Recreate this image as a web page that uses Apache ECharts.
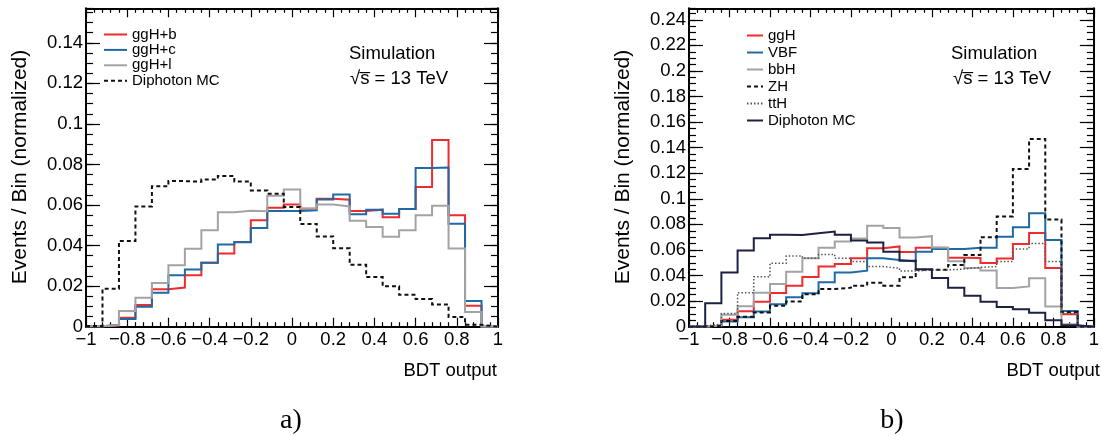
<!DOCTYPE html>
<html>
<head>
<meta charset="utf-8">
<script src="https://cdn.jsdelivr.net/npm/echarts@6/dist/echarts.min.js"></script>
<style>
  html, body { margin: 0; padding: 0; background: #fff; }
  #chart { width: 1102px; height: 436px; }
</style>
</head>
<body>
<div id="chart"></div>
<script>
// BDT output histograms: 25 bins of width 0.08 spanning [-1, 1]
const binLow = -1;
const binWidth = 0.08;

// a) ggH split by jet flavour, compared with the diphoton background
const ggHb = [0.0002, 0.0006, 0.0044, 0.0107, 0.0185, 0.0193, 0.0254, 0.0315, 0.0361, 0.0418, 0.0525, 0.0587, 0.0603, 0.0582, 0.0631, 0.0626, 0.0570, 0.0577, 0.0540, 0.0580, 0.0689, 0.0921, 0.0549, 0.0103, 0];
const ggHc = [0.0002, 0.0010, 0.0038, 0.0098, 0.0167, 0.0254, 0.0282, 0.0315, 0.0405, 0.0416, 0.0487, 0.0570, 0.0570, 0.0574, 0.0627, 0.0652, 0.0555, 0.0577, 0.0557, 0.0580, 0.0782, 0.0785, 0.0508, 0.0127, 0];
const ggHl = [0.0002, 0.0008, 0.0077, 0.0143, 0.0216, 0.0303, 0.0384, 0.0475, 0.0564, 0.0572, 0.0569, 0.0646, 0.0676, 0.0583, 0.0602, 0.0593, 0.0523, 0.0492, 0.0444, 0.0475, 0.0549, 0.0597, 0.0385, 0.0072, 0];
const diphotonA = [0.0003, 0.0187, 0.0423, 0.0593, 0.0692, 0.0718, 0.0715, 0.0726, 0.0743, 0.0716, 0.0672, 0.0656, 0.0590, 0.0507, 0.0445, 0.0387, 0.0305, 0.0245, 0.0199, 0.0157, 0.0136, 0.0110, 0.0048, 0.0009, 0];

// b) Higgs production modes, compared with the diphoton background
const ggH = [0, 0.0010, 0.0055, 0.0120, 0.0196, 0.0263, 0.0321, 0.0388, 0.0470, 0.0490, 0.0535, 0.0613, 0.0628, 0.0585, 0.0618, 0.0615, 0.0540, 0.0537, 0.0498, 0.0533, 0.0646, 0.0733, 0.0460, 0.0097, 0];
const VBF = [0, 0.0008, 0.0040, 0.0073, 0.0118, 0.0175, 0.0230, 0.0261, 0.0347, 0.0423, 0.0438, 0.0535, 0.0522, 0.0510, 0.0587, 0.0608, 0.0608, 0.0618, 0.0618, 0.0704, 0.0777, 0.0887, 0.0678, 0.0123, 0];
const bbH = [0, 0.0010, 0.0093, 0.0160, 0.0266, 0.0334, 0.0430, 0.0535, 0.0618, 0.0666, 0.0690, 0.0790, 0.0772, 0.0697, 0.0708, 0.0620, 0.0512, 0.0460, 0.0440, 0.0302, 0.0315, 0.0378, 0.0157, 0.0020, 0];
const ZH = [0, 0.0008, 0.0045, 0.0078, 0.0112, 0.0163, 0.0198, 0.0253, 0.0295, 0.0305, 0.0321, 0.0344, 0.0321, 0.0386, 0.0446, 0.0446, 0.0483, 0.0560, 0.0700, 0.0862, 0.1234, 0.1467, 0.0838, 0.0115, 0];
const ttH = [0.0005, 0.0020, 0.0104, 0.0266, 0.0390, 0.0496, 0.0553, 0.0535, 0.0565, 0.0535, 0.0510, 0.0470, 0.0457, 0.0435, 0.0444, 0.0444, 0.0451, 0.0464, 0.0470, 0.0509, 0.0608, 0.0650, 0.0509, 0.0104, 0.0005];
const diphotonB = [0, 0.0183, 0.0423, 0.0595, 0.0691, 0.0720, 0.0717, 0.0730, 0.0744, 0.0720, 0.0675, 0.0658, 0.0587, 0.0515, 0.0450, 0.0380, 0.0305, 0.0243, 0.0196, 0.0155, 0.0136, 0.0110, 0.0050, 0.0011, 0];

const FONT = '"Liberation Sans", Arial, Helvetica, sans-serif';
const C_RED = '#ef2b2b', C_BLUE = '#1f6aa5', C_GREY = '#a3a3a3', C_NAVY = '#1c2142', C_BLACK = '#111111', C_DOT = '#555555';

// histogram outline: left edge of every bin, plus the right edge of the last bin
function steps(values) {
  const pts = values.map((v, i) => [binLow + i * binWidth, v]);
  pts.push([binLow + values.length * binWidth, values[values.length - 1]]);
  return pts;
}

function tickText(v) {
  return String(+(+v).toFixed(3)).replace('-', '\u2212');
}

const grids = [
  { left: 86, top: 8.3, width: 412, height: 318.4 },
  { left: 689, top: 8.3, width: 411, height: 318.4 }
];
const yMax = [0.157, 0.249];

const axisLine = { show: true, onZero: false, lineStyle: { color: '#000', width: 2 } };
const xAxes = [], yAxes = [];
grids.forEach((g, gi) => {
  ['bottom', 'top'].forEach(pos => {
    xAxes.push({
      gridIndex: gi, type: 'value', position: pos, min: -1, max: 1, interval: 0.2,
      axisLine: axisLine,
      axisTick: { show: true, inside: true, length: 9, lineStyle: { color: '#000', width: 1.2 } },
      minorTick: { show: true, splitNumber: 5, length: 4.5, lineStyle: { color: '#000', width: 1.2 } },
      axisLabel: {
        show: pos === 'bottom', margin: 4, color: '#000', fontFamily: FONT, fontSize: 18.5,
        showMinLabel: true, showMaxLabel: true, formatter: tickText
      },
      splitLine: { show: false }
    });
  });
  ['left', 'right'].forEach(pos => {
    // major ticks with labels
    yAxes.push({
      gridIndex: gi, type: 'value', position: pos, min: 0, max: yMax[gi], interval: 0.02,
      axisLine: axisLine,
      axisTick: { show: true, inside: true, length: 14, lineStyle: { color: '#000', width: 1.2 } },
      axisLabel: {
        show: pos === 'left', margin: 3, color: '#000', fontFamily: FONT, fontSize: 18.5,
        showMinLabel: true, showMaxLabel: false, formatter: tickText
      },
      splitLine: { show: false }
    });
    // minor ticks every 0.005
    yAxes.push({
      gridIndex: gi, type: 'value', position: pos, min: 0, max: yMax[gi], interval: 0.005,
      axisLine: { show: false, onZero: false },
      axisTick: { show: true, inside: true, length: 7, lineStyle: { color: '#000', width: 1.2 } },
      axisLabel: { show: false },
      splitLine: { show: false }
    });
  });
});

function hist(name, values, gi, color, type, width) {
  return {
    name: name, type: 'line', step: 'end', xAxisIndex: gi * 2, yAxisIndex: gi * 4,
    data: steps(values), symbol: 'none', showSymbol: false, silent: true, animation: false,
    lineStyle: { color: color, width: width || 2, type: type || 'solid', cap: 'butt', join: 'miter' },
    itemStyle: { color: color }
  };
}

const series = [
  hist('ggH+b', ggHb, 0, C_RED),
  hist('ggH+c', ggHc, 0, C_BLUE),
  hist('ggH+l', ggHl, 0, C_GREY),
  hist('Diphoton MC', diphotonA, 0, C_BLACK, [4, 3]),
  hist('ggH', ggH, 1, C_RED),
  hist('VBF', VBF, 1, C_BLUE),
  hist('bbH', bbH, 1, C_GREY),
  hist('ZH', ZH, 1, C_BLACK, [4, 3]),
  hist('ttH', ttH, 1, C_DOT, [1.5, 2], 1.5),
  hist('Diphoton\u00a0MC', diphotonB, 1, C_NAVY)
];

// legend shows only the line sample of each histogram
const legendText = { color: '#000', fontFamily: FONT, fontSize: 15, lineHeight: 14 };
const legendCommon = {
  orient: 'vertical', itemHeight: 14, padding: 0, textStyle: legendText, selectedMode: false,
  itemStyle: { opacity: 0, borderWidth: 0 }
};
const legends = [
  Object.assign({ data: ['ggH+b', 'ggH+c', 'ggH+l', 'Diphoton MC'], left: 103, top: 27, itemWidth: 23, itemGap: 0.4 }, legendCommon),
  Object.assign({ data: ['ggH', 'VBF', 'bbH', 'ZH', 'ttH', 'Diphoton\u00a0MC'], left: 746, top: 28, itemWidth: 16, itemGap: 2.0 }, legendCommon)
];

function txt(text, x, y, opts) {
  return {
    type: 'text', x: x, y: y, silent: true,
    style: Object.assign({ text: text, fill: '#000', font: '18.5px ' + FONT, verticalAlign: 'middle', align: 'left' }, opts || {})
  };
}
function rotated(text, x, y) {
  const t = txt(text, x, y, { align: 'center', font: '21px ' + FONT });
  t.rotation = Math.PI / 2;
  return t;
}

const graphic = [
  txt('Simulation', 349, 53.5),
  txt('\u221As\u0305 = 13 TeV', 350, 78.5),
  txt('Simulation', 951, 53.5),
  txt('\u221As\u0305 = 13 TeV', 953, 78.5),
  txt('BDT output', 497, 371, { align: 'right' }),
  txt('BDT output', 1100, 371, { align: 'right' }),
  rotated('Events / Bin (normalized)', 20, 167),
  rotated('Events / Bin (normalized)', 623, 167),
  txt('a)', 291, 421, { align: 'center', font: '28px "Liberation Serif", "Times New Roman", serif' }),
  txt('b)', 892, 421, { align: 'center', font: '28px "Liberation Serif", "Times New Roman", serif' })
];

const chart = echarts.init(document.getElementById('chart'), null, { renderer: 'canvas' });
chart.setOption({
  animation: false,
  backgroundColor: '#fff',
  grid: grids,
  xAxis: xAxes,
  yAxis: yAxes,
  legend: legends,
  series: series,
  graphic: graphic
});
</script>
</body>
</html>
